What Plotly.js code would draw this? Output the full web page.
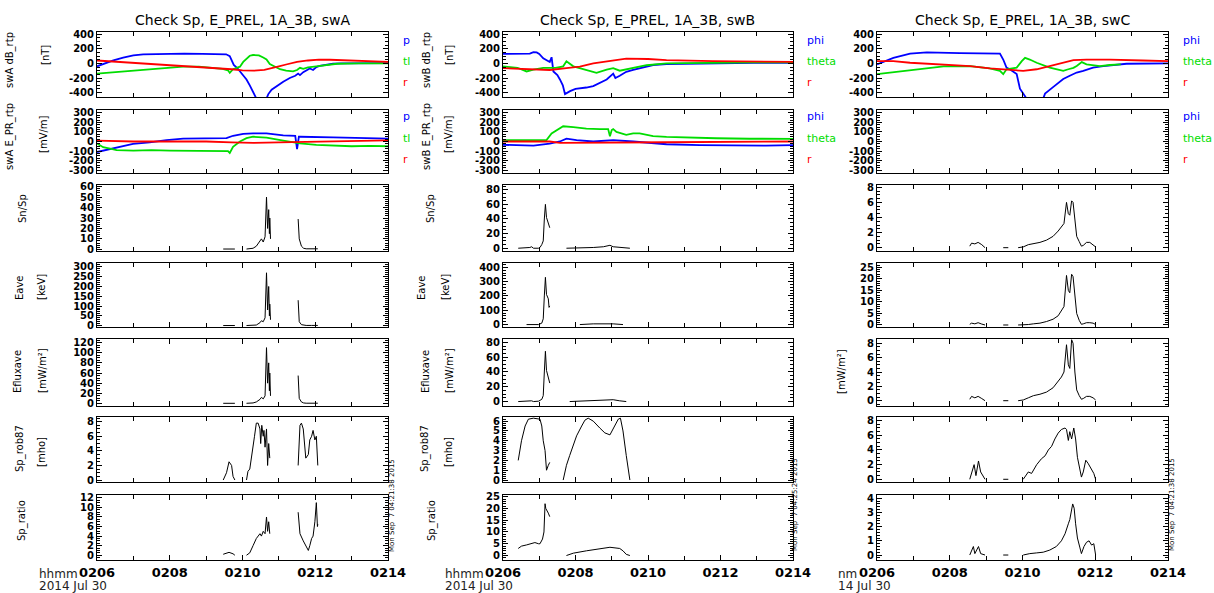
<!DOCTYPE html>
<html><head><meta charset="utf-8">
<script src="https://cdn.plot.ly/plotly-3.0.1.min.js"></script>
<style>html,body{margin:0;padding:0;background:#fff}#chart{width:1214px;height:593px}</style>
</head><body><div id="chart"></div>
<script>
// ================= DATA (time in minutes after 02:06 UT, 2014 Jul 30) =================
const xTickVals = [0,2,4,6,8];
const xTickText = ['0206','0208','0210','0212','0214'];
const titles = ['Check Sp, E_PREL, 1A_3B, swA','Check Sp, E_PREL, 1A_3B, swB','Check Sp, E_PREL, 1A_3B, swC'];

// ---- swA dB_rtp [nT]
const tA_dB_phi = [0,0.2,0.45,0.72,1.0,1.27,1.6,1.91,2.4,2.9,3.3,3.55,3.65,3.7,3.76,3.85,3.93,4.02,4.11,4.2,4.29,4.38,4.66,4.71,4.8,4.94,5.12,5.3,5.45,5.53,5.58,5.67,5.76,5.85,5.94,6.03,6.12,6.3,6.49,6.7,7.2,7.6,8.0];
const A_dB_phi  = [-40,0,40,80,110,125,130,132,135,130,128,125,100,40,-20,-60,-110,-170,-220,-300,-380,-480,-480,-420,-360,-310,-250,-200,-170,-140,-160,-120,-100,-70,-90,-50,-35,-20,-5,0,5,5,5];
const tA_dB_theta = [0,0.5,1.0,1.5,1.91,2.37,2.8,3.2,3.45,3.6,3.65,3.74,3.93,4.02,4.11,4.2,4.29,4.45,4.57,4.66,4.75,4.9,5.03,5.2,5.39,5.5,5.58,5.67,5.8,6.03,6.3,6.6,7.2,8.0];
const A_dB_theta  = [-140,-120,-100,-80,-65,-45,-45,-60,-75,-95,-130,-80,-45,20,70,105,115,110,80,55,-10,-50,-80,-100,-110,-90,-60,-75,-55,-40,-20,-5,0,0];
const tA_dB_r = [0,0.5,1.0,1.5,2.0,2.5,3.0,3.4,3.7,4.0,4.3,4.6,4.8,5.0,5.2,5.5,5.8,6.1,6.4,6.8,7.2,7.6,8.0];
const A_dB_r  = [40,25,10,-5,-20,-35,-50,-65,-80,-95,-100,-90,-70,-40,-15,20,40,52,50,42,38,30,22];
// ---- swA E_PR_rtp [mV/m]
const tA_E_phi = [0,0.17,0.36,0.63,0.99,1.45,1.91,2.37,2.83,3.3,3.56,3.74,4.02,4.29,4.66,5.12,5.45,5.5,5.55,5.58,6.03,6.49,7.41,8.0];
const A_E_phi  = [-110,-95,-85,-60,-25,-10,15,30,30,35,35,60,80,85,85,65,60,-80,50,50,50,43,35,30];
const tA_E_theta = [0,0.17,0.36,0.54,1.0,1.5,2.0,2.5,3.0,3.4,3.6,3.65,3.74,3.93,4.11,4.29,4.66,5.12,5.58,6.03,6.49,7.0,7.5,8.0];
const A_E_theta  = [-20,-60,-75,-90,-95,-90,-95,-95,-100,-95,-100,-120,-55,0,35,50,40,10,-20,-35,-45,-50,-45,-50];
const tA_E_r = [0,1.0,2.0,3.0,3.7,4.3,5.0,5.6,6.5,7.4,8.0];
const A_E_r  = [10,0,0,0,-10,-15,-10,-5,0,5,12];
// ---- swA precipitation parameters
const tA_prec = [3.47,3.63,3.79,3.95,4.11,4.29,4.38,4.48,4.52,4.57,4.62,4.66,4.69,4.72,4.74,4.75,4.77,5.1,5.53,5.56,5.62,5.68,5.75,5.9,6.07];
const A_SnSp  = [0.3,0.3,0.3,null,0.3,1,3,8,10,7,12,50,20,38,15,30,10,null,29,10,3,1,0.5,0.5,0.5];
const A_Eave  = [0.5,0.5,0.5,null,0.5,1,3,15,25,20,40,270,80,200,50,110,30,null,130,20,5,2,1,1,1];
const A_Eflux = [0.3,0.3,0.3,null,0.3,1,3,8,12,9,15,110,40,80,25,60,15,null,55,10,3,1,0.5,0.5,0.5];
const tA_rob = [3.47,3.56,3.63,3.70,3.74,3.79,3.95,4.11,4.15,4.2,4.25,4.29,4.33,4.38,4.43,4.48,4.5,4.53,4.57,4.59,4.62,4.66,4.69,4.72,4.75,5.1,5.53,5.58,5.62,5.67,5.74,5.81,5.85,5.90,5.94,5.99,6.03,6.07];
const A_rob87 = [0,1,2.5,2,0.5,0,null,0,1.2,1.5,3,4.5,6,7.8,7.8,7,5,7.5,6,6.8,4.5,7,2,5,3,null,2,7.5,7.8,7,3,3.5,5.5,6,6.8,5.5,6,2];
const tA_ratio = [3.47,3.63,3.74,3.79,3.95,4.11,4.2,4.29,4.38,4.48,4.52,4.57,4.62,4.66,4.69,4.72,4.75,5.1,5.53,5.58,5.67,5.76,5.81,5.85,5.90,5.94,5.99,6.03,6.06,6.07];
const A_ratio  = [0.2,0.6,0.3,0,null,0,0.5,2,3.5,4.5,4,5,4.5,8,5,7,4.5,null,9,4.5,3,1.5,1,2,3.5,4,7,11,6,6.5];

// ---- swB dB_rtp [nT]
const tB_dB_phi = [0,0.4,0.74,0.84,0.93,1.0,1.11,1.29,1.34,1.39,1.5,1.57,1.65,1.71,1.85,2.0,2.12,2.3,2.49,2.67,2.86,3.04,3.1,3.22,3.4,3.59,3.96,4.14,4.51,5.43,6.9,8.0];
const B_dB_phi  = [130,130,135,155,150,130,70,20,85,-110,-160,-220,-300,-420,-380,-350,-345,-330,-310,-270,-220,-140,-200,-170,-115,-90,-45,-22,-8,0,9,9];
const tB_dB_theta = [0,0.4,0.65,0.84,1.11,1.45,1.66,1.75,1.94,2.12,2.4,2.58,2.86,3.04,3.22,3.59,3.96,4.51,5.8,6.9,8.0];
const B_dB_theta  = [-40,-60,-110,-85,-60,-60,-40,30,-40,-65,-100,-130,-85,-65,-100,-65,-25,0,13,15,15];
const tB_dB_r = [0,0.8,1.29,1.75,2.12,2.49,2.86,3.22,3.40,4.0,4.51,5.79,7.0,8.0];
const B_dB_r  = [-65,-85,-90,-65,-45,0,25,45,65,60,45,30,22,20];
// ---- swB E_PR_rtp [mV/m]
const tB_E_phi = [0,0.84,1.29,1.57,1.75,2.03,2.49,3.04,3.59,4.05,4.51,5.43,6.34,7.25,8.0];
const B_E_phi  = [-35,-43,-23,0,29,14,0,14,0,-14,-29,-37,-43,-43,-38];
const tB_E_theta = [0,0.84,1.2,1.34,1.48,1.66,1.94,2.3,2.67,2.9,2.95,3.0,3.04,3.13,3.4,3.59,3.77,4.14,4.51,4.97,5.88,6.8,7.88,8.0];
const B_E_theta  = [15,10,15,85,115,160,150,135,130,130,55,120,130,100,70,85,85,57,49,43,34,29,28,28];
const tB_E_r = [0,1.29,1.57,2.5,3.59,4.51,8.0];
const B_E_r  = [0,0,-14,-14,-8,-8,0];
// ---- swB precipitation parameters
const tB_SnSp = [0.42,0.65,0.74,0.79,0.84,0.98,1.02,1.07,1.11,1.14,1.17,1.20,1.25,1.29,1.5,1.75,2.30,2.49,2.77,2.91,2.95,3.04,3.22,3.40,3.50];
const B_SnSp  = [0,0,1,2,0,0,1,5,10,40,60,42,35,28,null,0,0.5,1,2,3,4,2,1,0,0];
const tB_Eave = [0.65,0.98,1.07,1.11,1.14,1.17,1.20,1.25,1.27,1.29,1.7,2.12,2.30,2.49,3.04,3.22,3.31];
const B_Eave  = [0,0,10,40,200,330,210,180,120,130,null,0,3,5,5,2,0];
const tB_Eflux = [0.42,0.74,0.79,0.84,0.98,1.07,1.11,1.14,1.17,1.20,1.25,1.29,1.6,1.84,2.30,2.67,2.86,3.04,3.22,3.40];
const B_Eflux  = [0,0.5,1,0,0.5,3,8,40,68,42,30,25,null,0,1,2,3,2.5,1,0];
const tB_rob = [0.42,0.47,0.51,0.61,0.70,0.84,1.02,1.07,1.11,1.16,1.20,1.25,1.29,1.5,1.66,1.75,1.84,1.94,2.03,2.17,2.26,2.35,2.49,2.67,2.81,2.95,3.09,3.18,3.24,3.31,3.40,3.50];
const B_rob87 = [2,3,4,5.5,6.2,6.3,6.2,5.5,4,3,1,1.5,1.8,null,0,1.5,2.5,3.5,4.5,5.5,6.1,6.3,6,5.3,4.8,4.6,5.5,6.2,6.3,5,2.5,0];
const tB_ratio = [0.42,0.51,0.65,0.79,0.88,0.98,1.02,1.09,1.13,1.16,1.18,1.25,1.29,1.5,1.75,1.94,2.30,2.67,2.95,3.22,3.31,3.40,3.50];
const B_ratio  = [3,4,4.5,5,5.5,5,5,7,10,22,20,18,16.5,null,0,1,2,3,3.5,3,2,0.5,0];

// ---- swC dB_rtp [nT]
const tC_dB_phi = [0,0.45,0.91,1.37,2.28,3.01,3.38,3.47,3.56,3.65,3.84,3.93,4.02,4.11,4.57,4.62,4.84,5.12,5.30,5.49,5.67,5.94,6.22,6.59,6.86,8.0];
const C_dB_phi  = [-13,76,134,150,142,140,134,53,-58,-80,-147,-347,-414,-480,-480,-414,-325,-214,-169,-125,-102,-58,-36,-13,-5,0];
const tC_dB_theta = [0,0.91,1.83,2.56,3.1,3.38,3.47,3.56,3.84,3.98,4.07,4.2,4.39,4.75,4.93,5.12,5.26,5.40,5.49,5.63,5.76,6.13,6.40,6.7];
const C_dB_theta  = [-147,-89,-40,-36,-67,-102,-147,-80,-58,31,76,53,9,-58,-80,-102,-80,-60,-36,18,-13,-36,-22,-13];
const tC_dB_r = [0,0.45,0.91,1.83,2.56,3.1,3.65,4.02,4.39,4.75,5.12,5.40,5.76,6.4,7.3,8.0];
const C_dB_r  = [31,31,9,-13,-36,-67,-93,-102,-80,-36,9,44,53,53,40,31];
// ---- swC precipitation parameters
const tC_prec = [2.55,2.60,2.69,2.78,2.88,2.97,3.2,3.47,3.61,3.75,3.88,4.02,4.16,4.30,4.48,4.66,4.84,4.98,5.07,5.14,5.21,5.26,5.30,5.35,5.39,5.44,5.49,5.56,5.62,5.67,5.76,5.85,5.94,6.01];
const C_SnSp  = [0.2,0.6,0.5,0.7,0.4,0,null,0,0,null,0,0.1,0.4,0.5,0.7,1.0,1.5,2.2,2.8,3.2,6.0,4.5,4.3,6.2,6.0,3.5,1.5,0.8,0.2,0.3,0.7,0.7,0.4,0.1];
const C_Eave  = [0.3,0.8,0.5,1,0.4,0,null,0,0,null,0,0,0.2,0.5,0.8,1.5,2.5,4,6,8,21.5,15,14,22,21,12,5,2,0.3,0.5,1,1,0.8,0.2];
const C_Eflux = [0.2,0.6,0.4,0.6,0.3,0,null,0,0,null,0,0.1,0.4,0.7,0.9,1.2,1.8,2.8,3.3,4,7.8,5,4.5,8.5,8,4,1.5,0.7,0.2,0.3,0.6,0.6,0.4,0.1];
const tC_rob = [2.55,2.63,2.67,2.72,2.79,2.85,2.92,2.97,3.2,3.47,3.61,3.8,4.02,4.16,4.25,4.39,4.52,4.62,4.71,4.80,4.89,4.98,5.07,5.17,5.21,5.26,5.30,5.35,5.41,5.46,5.51,5.58,5.62,5.67,5.74,5.80,5.90,5.96,6.01];
const C_rob87 = [0,1.5,2,0.5,2.5,1,0.5,0,null,0,0,null,0,1,0.8,2,2.8,3.2,4,4.5,5.5,6.3,6.8,7,6.8,5.3,6.5,5.5,7,5.5,3,1,0.3,1,2.6,2.2,1.2,0.8,0];
const tC_ratio = [2.55,2.65,2.69,2.79,2.85,2.97,3.2,3.47,3.61,3.8,4.02,4.2,4.39,4.57,4.75,4.93,5.07,5.17,5.26,5.30,5.38,5.42,5.46,5.51,5.58,5.62,5.69,5.76,5.83,5.90,5.96,6.01];
const C_ratio  = [0,0.6,0.1,0.6,0.1,0,null,0,0,null,0,0.1,0.15,0.2,0.35,0.6,1.0,1.5,2.2,2.5,3.6,3.3,2.2,1.2,0.5,0.1,0.6,0.9,1,0.7,0.8,0];

// tick / label texts
const yLabel1 = [['swA dB_rtp','swA E_PR_rtp','Sn/Sp','Eave','Efluxave','Sp_rob87','Sp_ratio'],
                 ['swB dB_rtp','swB E_PR_rtp','Sn/Sp','Eave','Efluxave','Sp_rob87','Sp_ratio']];
const yLabel2 = ['[nT]','[mV/m]','','[keV]','[mW/m²]','[mho]',''];
const compNames = [['p','tl','r'],['phi','theta','r'],['phi','theta','r']];
const stamps = ['Mon Sep  7 04:21:38 2015','Mon Sep  7 04:25:24 2015','Mon Sep  7 04:21:38 2015'];

// ================= LAYOUT =================
const W = 1214, H = 593;
const colL = [97,503,877], colR = [388,793,1168];
const rowT = [32,110,185,263,339,417,495], rowB = [97,173,251,327,406,482,560];
const BLUE='#0000ff', GREEN='#00dd00', RED='#ff0000', BLK='#000000';
const FONT = 'DejaVu Sans';

// per column y-axis settings: [range, step, minor]
const yCfg = [
  [[[-460,430],200,50],[[-330,330],100,25],[[-1.6,61.6],10,2],[[-7,320],50,10],[[-5,127],20,5],[[-0.27,8.64],2,0.5],[[-1,12.6],2,0.5]],
  [[[-460,430],200,50],[[-330,330],100,25],[[-3.8,86.5],20,5],[[-17,430],100,20],[[-6,84.6],20,5],[[-0.2,6.42],1,0.2],[[-1.9,25.7],5,1]],
  [[[-460,430],200,50],[[-330,330],100,25],[[-0.44,8.3],2,0.5],[[-0.87,26.9],5,1],[[-0.74,8.6],2,0.5],[[-0.37,8.5],2,0.5],[[-0.35,4.23],1,0.2]]
];

const layout = {width:W,height:H,autosize:false,margin:{l:0,r:0,t:0,b:0},
  paper_bgcolor:'#fff',plot_bgcolor:'#fff',showlegend:false,annotations:[],
  font:{family:FONT,color:BLK}};
const data = [];
function ax(n){return n===1?'':String(n);}

for(let c=0;c<3;c++){
  for(let r=0;r<7;r++){
    const n = c*7+r+1;
    const cfg = yCfg[c][r];
    const lo = Math.ceil(cfg[0][0]/cfg[1])*cfg[1];
    const tv=[]; for(let v=lo; v<=cfg[0][1]+1e-9; v+=cfg[1]) tv.push(+v.toFixed(6));
    layout['xaxis'+ax(n)] = {domain:[colL[c]/W,colR[c]/W],anchor:'y'+ax(n),range:[0,8],
      tickmode:'array',tickvals:xTickVals,ticktext:xTickText,showticklabels:r===6,
      ticks:'inside',ticklen:5,tickcolor:BLK,showline:true,linecolor:BLK,linewidth:1,mirror:'ticks',
      minor:{ticks:'inside',ticklen:4,tickcolor:BLK,tickmode:'linear',tick0:0,dtick:1},
      showgrid:false,zeroline:false,tickfont:{family:FONT,size:13,weight:'bold',color:BLK},fixedrange:true};
    layout['yaxis'+ax(n)] = {domain:[1-rowB[r]/H,1-rowT[r]/H],anchor:'x'+ax(n),range:cfg[0],
      tickmode:'array',tickvals:tv,ticktext:tv.map(v=>String(v)),
      ticks:'inside',ticklen:5,tickcolor:BLK,showline:true,linecolor:BLK,linewidth:1,mirror:'ticks',
      minor:{ticks:'inside',ticklen:3,tickcolor:BLK,tickmode:'linear',tick0:0,dtick:cfg[2]},
      showgrid:false,zeroline:false,tickfont:{family:FONT,size:10,weight:'bold',color:BLK},fixedrange:true};
  }
}

function line(c,r,t,v,color,w){
  const n=c*7+r+1;
  data.push({type:'scatter',mode:'lines',x:t,y:v,xaxis:'x'+ax(n),yaxis:'y'+ax(n),
    line:{color:color,width:w},connectgaps:false,hoverinfo:'skip'});
}
const LW = 1.8;
// column A
line(0,0,tA_dB_phi,A_dB_phi,BLUE,LW); line(0,0,tA_dB_theta,A_dB_theta,GREEN,LW); line(0,0,tA_dB_r,A_dB_r,RED,LW);
line(0,1,tA_E_phi,A_E_phi,BLUE,LW); line(0,1,tA_E_theta,A_E_theta,GREEN,LW); line(0,1,tA_E_r,A_E_r,RED,LW);
line(0,2,tA_prec,A_SnSp,BLK,1); line(0,3,tA_prec,A_Eave,BLK,1); line(0,4,tA_prec,A_Eflux,BLK,1);
line(0,5,tA_rob,A_rob87,BLK,1); line(0,6,tA_ratio,A_ratio,BLK,1);
// column B
line(1,0,tB_dB_phi,B_dB_phi,BLUE,LW); line(1,0,tB_dB_theta,B_dB_theta,GREEN,LW); line(1,0,tB_dB_r,B_dB_r,RED,LW);
line(1,1,tB_E_phi,B_E_phi,BLUE,LW); line(1,1,tB_E_theta,B_E_theta,GREEN,LW); line(1,1,tB_E_r,B_E_r,RED,LW);
line(1,2,tB_SnSp,B_SnSp,BLK,1); line(1,3,tB_Eave,B_Eave,BLK,1); line(1,4,tB_Eflux,B_Eflux,BLK,1);
line(1,5,tB_rob,B_rob87,BLK,1); line(1,6,tB_ratio,B_ratio,BLK,1);
// column C
line(2,0,tC_dB_phi,C_dB_phi,BLUE,LW); line(2,0,tC_dB_theta,C_dB_theta,GREEN,LW); line(2,0,tC_dB_r,C_dB_r,RED,LW);
line(2,1,[null],[null],BLUE,LW);   // swC E_PR_rtp: no data, empty frame only
line(2,2,tC_prec,C_SnSp,BLK,1); line(2,3,tC_prec,C_Eave,BLK,1); line(2,4,tC_prec,C_Eflux,BLK,1);
line(2,5,tC_rob,C_rob87,BLK,1); line(2,6,tC_ratio,C_ratio,BLK,1);

function ann(text,x,y,opt){
  layout.annotations.push(Object.assign({text:text,x:x/W,y:1-y/H,xref:'paper',yref:'paper',showarrow:false,
    xanchor:'center',yanchor:'middle',font:{family:FONT,size:10,color:BLK}},opt||{}));
}
// titles
const titleX=[242,647,1022];
for(let c=0;c<3;c++) ann(titles[c],titleX[c],20,{font:{family:FONT,size:14,color:BLK}});
// component labels
const compX=[401,805,1181];
const compColors=[BLUE,GREEN,RED];
for(let c=0;c<3;c++){
  for(const r of [0,1]){
    const ys = r===0?[40,62,83]:[117,138,160];
    for(let k=0;k<3;k++) ann(compNames[c][k],compX[c],ys[k],{xanchor:'left',font:{family:FONT,size:11,color:compColors[k]}});
  }
}
// y-axis labels column A & B
const lab1X=[[10,10,22,20,17,20,22],[427,427,430,422,425,425,432]];
const lab1Y=[60,137,209,288,372,449,521];
const lab2X=[[45,43,0,42,42,41,0],[449,448,0,446,449,448,0]];
const lab2Y=[55,134,0,287,371,452,0];
for(let c=0;c<2;c++){
  for(let r=0;r<7;r++){
    ann(yLabel1[c][r],lab1X[c][r],lab1Y[r],{textangle:-90});
    if(yLabel2[r]) ann(yLabel2[r],lab2X[c][r],lab2Y[r],{textangle:-90});
  }
}
ann(yLabel2[4],841,372,{textangle:-90});
// bottom time labels
const hhX=[37,443,836], hhTxt=['hhmm','hhmm','nm'], dateTxt=['2014 Jul 30','2014 Jul 30','14 Jul 30'];
for(let c=0;c<3;c++){
  ann(hhTxt[c],hhX[c],574,{xanchor:'left',font:{family:FONT,size:12,color:'#222'}});
  ann(dateTxt[c],hhX[c],586,{xanchor:'left',font:{family:FONT,size:12,color:'#222'}});
}
// time stamps
const stX=[392,795,1172];
for(let c=0;c<3;c++) ann(stamps[c],stX[c],505,{textangle:-90,font:{family:FONT,size:7,color:BLK}});

Plotly.newPlot('chart',data,layout,{staticPlot:true,displayModeBar:false});
</script></body></html>
